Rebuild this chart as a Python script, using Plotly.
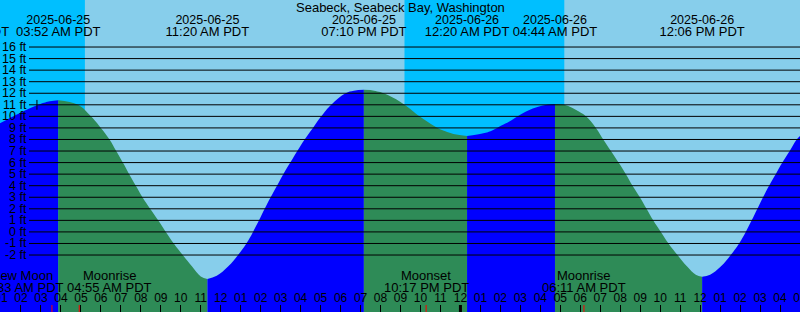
import plotly.graph_objects as go

# ---------------- data ----------------
title_text = "Seabeck, Seabeck Bay, Washington"

tide_time = [
    "2025-06-25 00:57", "2025-06-25 01:57", "2025-06-25 02:57", "2025-06-25 03:27",
    "2025-06-25 03:52", "2025-06-25 04:51", "2025-06-25 05:30", "2025-06-25 06:00",
    "2025-06-25 06:26", "2025-06-25 06:46", "2025-06-25 07:06", "2025-06-25 07:25",
    "2025-06-25 07:45", "2025-06-25 08:05", "2025-06-25 08:28", "2025-06-25 08:52",
    "2025-06-25 09:15", "2025-06-25 09:39", "2025-06-25 10:06", "2025-06-25 10:34",
    "2025-06-25 11:00", "2025-06-25 11:20", "2025-06-25 11:48", "2025-06-25 12:22",
    "2025-06-25 12:52", "2025-06-25 13:17", "2025-06-25 13:37", "2025-06-25 13:55",
    "2025-06-25 14:12", "2025-06-25 14:30", "2025-06-25 14:49", "2025-06-25 15:08",
    "2025-06-25 15:29", "2025-06-25 15:50", "2025-06-25 16:12", "2025-06-25 16:37",
    "2025-06-25 17:02", "2025-06-25 17:32", "2025-06-25 18:15", "2025-06-25 18:40",
    "2025-06-25 19:10", "2025-06-25 19:45", "2025-06-25 20:22", "2025-06-25 21:12",
    "2025-06-25 21:57", "2025-06-25 22:45", "2025-06-25 23:20", "2025-06-25 23:57",
    "2025-06-26 00:20", "2025-06-26 01:12", "2025-06-26 01:37", "2025-06-26 02:03",
    "2025-06-26 02:27", "2025-06-26 02:52", "2025-06-26 03:27", "2025-06-26 04:07",
    "2025-06-26 04:44", "2025-06-26 05:12", "2025-06-26 05:57", "2025-06-26 06:17",
    "2025-06-26 06:47", "2025-06-26 07:09", "2025-06-26 07:32", "2025-06-26 07:55",
    "2025-06-26 08:17", "2025-06-26 08:37", "2025-06-26 08:59", "2025-06-26 09:19",
    "2025-06-26 09:39", "2025-06-26 10:02", "2025-06-26 10:25", "2025-06-26 10:52",
    "2025-06-26 11:21", "2025-06-26 11:47", "2025-06-26 12:06", "2025-06-26 12:30",
    "2025-06-26 13:02", "2025-06-26 13:32", "2025-06-26 13:57", "2025-06-26 14:17",
    "2025-06-26 14:35", "2025-06-26 14:52", "2025-06-26 15:09", "2025-06-26 15:27",
    "2025-06-26 15:47", "2025-06-26 16:07", "2025-06-26 16:29", "2025-06-26 16:50",
    "2025-06-26 17:00",
]
tide_ft = [
    9.4, 10.3, 11.05, 11.3,
    11.4, 11.0, 10.0, 9.0,
    8.0, 7.0, 6.0, 5.0,
    4.0, 3.0, 2.0, 1.0,
    0.0, -1.0, -2.0, -3.0,
    -3.85, -4.07, -3.8, -3.0,
    -2.0, -1.0, 0.0, 1.0,
    2.0, 3.0, 4.0, 5.0,
    6.0, 7.0, 8.0, 9.0,
    10.0, 11.0, 12.0, 12.22,
    12.3, 12.2, 11.85, 11.0,
    10.0, 9.1, 8.65, 8.38,
    8.3, 8.55, 8.8, 9.2,
    9.55, 10.0, 10.55, 10.95,
    11.07, 11.0, 10.4, 10.0,
    9.0, 8.0, 7.0, 6.0,
    5.0, 4.0, 3.0, 2.0,
    1.0, 0.0, -1.0, -2.0,
    -3.0, -3.7, -3.87, -3.7,
    -3.0, -2.0, -1.0, 0.0,
    1.0, 2.0, 3.0, 4.0,
    5.0, 6.0, 7.0, 8.0,
    8.3,
]

# high / low tide events (the first one lies just before the chart)
extreme_time = ["2025-06-24 23:18", "2025-06-25 03:52", "2025-06-25 11:20", "2025-06-25 19:10",
                "2025-06-26 00:20", "2025-06-26 04:44", "2025-06-26 12:06"]
extreme_date = ["2025-06-24", "2025-06-25", "2025-06-25", "2025-06-25",
                "2025-06-26", "2025-06-26", "2025-06-26"]
extreme_label = ["11:18 PM PDT", "03:52 AM PDT", "11:20 AM PDT", "07:10 PM PDT",
                 "12:20 AM PDT", "04:44 AM PDT", "12:06 PM PDT"]

# sun events
night_start = ["2025-06-25 00:57", "2025-06-25 21:12"]
night_end = ["2025-06-25 05:12", "2025-06-26 05:12"]

# moon events
moon_name = ["New Moon", "Moonrise", "Moonset", "Moonrise"]
moon_time = ["2025-06-25 03:33", "2025-06-25 04:55", "2025-06-25 22:17", "2025-06-26 06:11"]
moon_label = ["03:33 AM PDT", "04:55 AM PDT", "10:17 PM PDT", "06:11 AM PDT"]
moon_label_shift = [-30, 30, 0, 0]

midnight_time = ["2025-06-26 00:00"]
mark_time = ["2025-06-25 02:48"]
mark_level = [11]

level_ticks = list(range(-2, 17))

# ---------------- style ----------------
W, H = 800, 312
X_RANGE = ["2025-06-25 00:57", "2025-06-26 17:00"]
Y_RANGE = [-6.93, 20.07]
DAY = "#87CEEB"
NIGHT = "#00BFFF"
RISE = "#0000FF"
FALL = "#2E8B57"
FONT = "Liberation Sans, Arial, sans-serif"
FS_TEXT = 13
FS_NUM = 12

fig = go.Figure()

# water: one filled region per rising / falling stretch
ext_idx = [i for i, s in enumerate(tide_time) if s in extreme_time]
bounds = sorted(set([0] + ext_idx + [len(tide_time) - 1]))
for a, b in zip(bounds[:-1], bounds[1:]):
    xs = tide_time[a:b + 1]
    ys = tide_ft[a:b + 1]
    col = RISE if ys[-1] > ys[0] else FALL
    fig.add_trace(go.Scatter(x=[xs[0], xs[-1]], y=[Y_RANGE[0], Y_RANGE[0]], mode="lines",
                             line=dict(width=0), hoverinfo="skip", showlegend=False))
    fig.add_trace(go.Scatter(x=xs, y=ys, mode="lines", fill="tonexty", fillcolor=col,
                             line=dict(width=0, shape="spline", smoothing=1.2, color=col),
                             hoverinfo="skip", showlegend=False))

# small level mark
fig.add_trace(go.Scatter(x=mark_time, y=mark_level, mode="markers",
                         marker=dict(symbol="line-ns", size=7, line=dict(width=1, color="black")),
                         hoverinfo="skip", showlegend=False))

# extreme labels (text on an overlay axis measured in pixels from the top)
fig.add_trace(go.Scatter(x=extreme_time, y=[20.5] * len(extreme_time), yaxis="y2", mode="text",
                         text=extreme_date, textposition="middle center",
                         textfont=dict(family=FONT, size=12.5, color="black"),
                         hoverinfo="skip", showlegend=False))
fig.add_trace(go.Scatter(x=extreme_time, y=[32.5] * len(extreme_time), yaxis="y2", mode="text",
                         text=extreme_label, textposition="middle center",
                         textfont=dict(family=FONT, size=FS_TEXT, color="black"),
                         hoverinfo="skip", showlegend=False))

shapes = []
for s, e in zip(night_start, night_end):
    shapes.append(dict(type="rect", xref="x", yref="paper", x0=s, x1=e, y0=0, y1=1,
                       fillcolor=NIGHT, line=dict(width=0), layer="below"))
for v in level_ticks:
    shapes.append(dict(type="line", xref="paper", yref="y", x0=29 / W, x1=1, y0=v, y1=v,
                       line=dict(color="black", width=1), layer="above"))
for t in moon_time:
    shapes.append(dict(type="line", xref="x", yref="paper", x0=t, x1=t, y0=0, y1=7 / H,
                       line=dict(color="red", width=1), layer="above"))
for t in midnight_time:
    shapes.append(dict(type="line", xref="x", yref="paper", x0=t, x1=t, y0=0, y1=7 / H,
                       line=dict(color="black", width=3), layer="above"))

annotations = [dict(text=title_text, xref="paper", yref="paper", x=0.5, y=1 - 7.5 / H,
                    xanchor="center", yanchor="middle", showarrow=False,
                    font=dict(family=FONT, size=FS_TEXT, color="black"))]
for v in level_ticks:
    annotations.append(dict(text=f"{v} ft", xref="paper", yref="y", x=29 / W, y=v,
                            xanchor="right", yanchor="middle", showarrow=False,
                            font=dict(family=FONT, size=12.5, color="black")))
for n, t, lab, sh in zip(moon_name, moon_time, moon_label, moon_label_shift):
    annotations.append(dict(text=n, xref="x", yref="paper", x=t, y=1 - 275 / H, xshift=sh,
                            xanchor="center", yanchor="middle", showarrow=False,
                            font=dict(family=FONT, size=FS_TEXT, color="black")))
    annotations.append(dict(text=lab, xref="x", yref="paper", x=t, y=1 - 287 / H, xshift=sh,
                            xanchor="center", yanchor="middle", showarrow=False,
                            font=dict(family=FONT, size=FS_TEXT, color="black")))

fig.update_layout(
    width=W, height=H, margin=dict(l=0, r=0, t=0, b=0, pad=0, autoexpand=False),
    paper_bgcolor=DAY, plot_bgcolor=DAY,
    shapes=shapes, annotations=annotations, showlegend=False,
    xaxis=dict(type="date", range=X_RANGE, showgrid=False, zeroline=False, showline=False,
               automargin=False,
               ticks="inside", ticklen=7, tickwidth=1, tickcolor="black",
               tick0="2025-06-25 00:00", dtick=3600000, tickformat="%I",
               ticklabelposition="inside", ticklabeloverflow="allow",
               tickfont=dict(family=FONT, size=FS_NUM, color="black"), fixedrange=True),
    yaxis=dict(range=Y_RANGE, visible=False, fixedrange=True, automargin=False),
    yaxis2=dict(range=[H, 0], overlaying="y", visible=False, fixedrange=True, automargin=False),
)

# the page itself adds no border around the chart
page_css = "document.body.style.margin='0';document.body.style.overflow='hidden';"
fig.write_html("out.html", post_script=page_css, config={"displayModeBar": False})
